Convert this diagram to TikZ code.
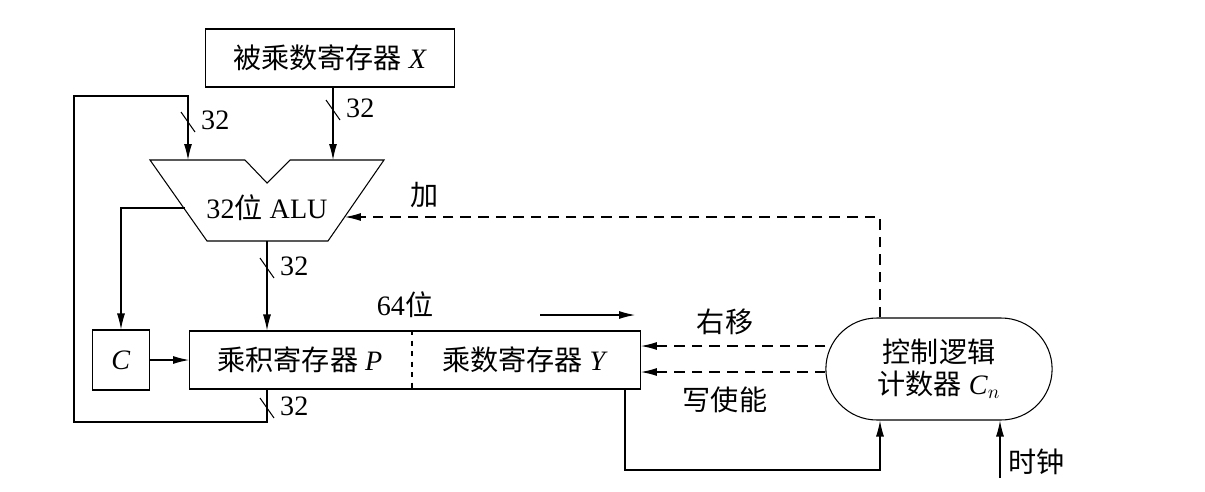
\documentclass[tikz,border=0pt]{standalone}
\usepackage{fontspec}
\setmainfont{Liberation Serif}
\newfontfamily\cjk{Noto Sans CJK SC}
\usetikzlibrary{arrows.meta, positioning, shapes.misc, calc}

\tikzset{
  reg/.style={draw, line width=0.6pt, minimum height=1.16cm, inner sep=0pt},
  lbl/.style={font=\fontsize{16}{18}\selectfont},
  sig/.style={line width=0.6pt, -{Latex[length=3.2mm,width=1.6mm]}},
  ctl/.style={sig, dashed, dash pattern=on 6pt off 4pt},
  wire/.style={line width=0.6pt},
}
\newcommand{\busmark}[2]{%
  \draw[wire] ($(#1)+(-7,-10)$) -- ($(#1)+(7,10)$);
  \node[lbl, right] at ($(#1)+(7,-2)$) {#2};}

\begin{document}
\begin{tikzpicture}[x=0.02cm, y=-0.02cm]
  \useasboundingbox (0,0) rectangle (1205,491);
  % registers
  \node[reg, minimum width=4.98cm, lbl] (xreg) at (330,58) {{\cjk 被乘数寄存器} \textit{X}};
  \node[reg, minimum width=9.02cm] (preg) at (415,360) {};
  \node[lbl] (ptext) at (300,360) {{\cjk 乘积寄存器} \textit{P}};
  \node[lbl] (ytext) at (525,360) {{\cjk 乘数寄存器} \textit{Y}};
  \draw[wire, dashed] (412,330) -- (412,390);
  \node[reg, minimum width=1.14cm, minimum height=1.2cm, lbl] (creg) at (121,360) {\textit{C}};
  \node[draw, line width=0.6pt, rounded rectangle, minimum width=4.76cm,
        minimum height=2.04cm, align=center, lbl] (ctrl) at (939,369)
        {{\cjk 控制逻辑}\\{\cjk 计数器} \textit{C}$_n$};
  % ALU
  \draw[wire] (150,160) -- (245,160) -- (267,183) -- (290,160) -- (384,160)
    -- (328,241) -- (207,241) -- cycle;
  \node[lbl] (alu) at (267,208) {32{\cjk 位} ALU};
  \coordinate (aluL) at (185,208);
  \coordinate (aluR) at (345,217);
  \node[lbl] at (405,305) {64{\cjk 位}};
  \draw[sig] (540,315) -- (635,315);
  % datapath
  \draw[sig] (xreg.south -| 333,0) -- (333,160);
  \busmark{333,110}{32}
  \draw[sig] (267,400) -- (267,422) -- (74,422) -- (74,96) -- (188,96) -- (188,160);
  \draw[wire] (preg.south -| 267,0) -- (267,422);
  \busmark{188,122}{32}
  \busmark{267,408}{32}
  \draw[sig] (267,241) -- (preg.north -| 267,0);
  \busmark{267,268}{32}
  \draw[sig] (aluL) -- (121,208) -- (creg.north);
  \draw[sig] (creg.east) -- (preg.west);
  % control
  \draw[ctl] (ctrl.north -| 880,0) -- (880,217) -- (aluR);
  \node[lbl] at (425,195) {\cjk 加};
  \draw[ctl] (ctrl.west |- 0,346) -- (preg.east |- 0,346);
  \draw[ctl] (ctrl.west |- 0,372) -- (preg.east |- 0,372);
  \node[lbl] at (725,322) {\cjk 右移};
  \node[lbl] at (725,400) {\cjk 写使能};
  \draw[sig] (preg.south -| 625,0) -- (625,470) -- (880,470) -- (ctrl.south -| 880,0);
  \coordinate (clk) at (1000,478);
  \draw[sig] (clk) -- (ctrl.south -| 1000,0);
  \node[lbl, right] at (1002,462) {\cjk 时钟};
\end{tikzpicture}
\end{document}
